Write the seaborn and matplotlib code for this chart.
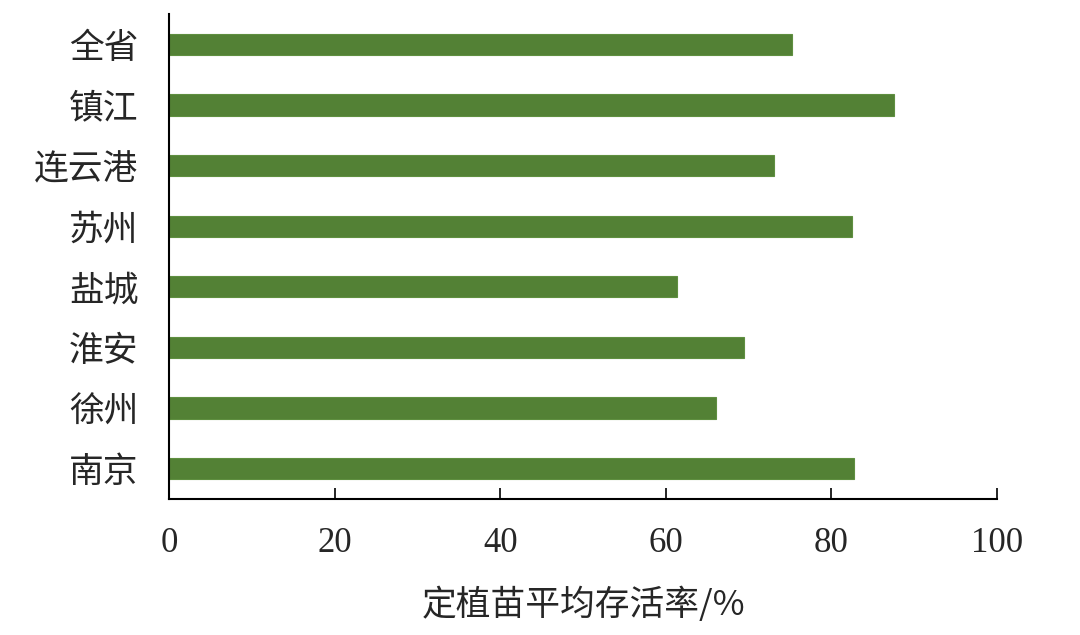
import matplotlib
matplotlib.use("Agg")
import matplotlib.pyplot as plt
import seaborn as sns
import pandas as pd

cities = ["全省", "镇江", "连云港", "苏州", "盐城", "淮安", "徐州", "南京"]
survival = [75.2, 87.5, 73.1, 82.5, 61.3, 69.4, 66.1, 82.7]
xticks = [0, 20, 40, 60, 80, 100]
xlabel = "定植苗平均存活率/%"

sns.set_theme(style="white")
plt.rcParams['font.family'] = ['Liberation Serif', 'Noto Sans CJK SC', 'DejaVu Sans']

df = pd.DataFrame({"city": cities, "val": survival})

fig = plt.figure(figsize=(10.8, 6.35), dpi=100)
ax = fig.add_axes([0.1565, 0.2142, 0.7667, 0.7638])
sns.barplot(data=df, x="val", y="city", orient="h", color="#538135",
            saturation=1, width=0.35, ax=ax, edgecolor="#5f8f40", linewidth=0.8)

ax.set_xlim(0, 100)
ax.set_ylim(len(cities) - 0.5, -0.5)
ax.set_xticks(xticks)
ax.set_xticklabels([str(t) for t in xticks], fontsize=25, family=['Liberation Serif'])
ax.set_yticklabels(cities, fontsize=25, family=['Noto Sans CJK SC'])
ax.set_xlabel(xlabel, fontsize=25, family=['Noto Sans CJK SC', 'DejaVu Sans'], labelpad=20)
ax.set_ylabel("")
for s in ["top", "right"]:
    ax.spines[s].set_visible(False)
for s in ["left", "bottom"]:
    ax.spines[s].set_color("black")
    ax.spines[s].set_linewidth(1.5)
ax.tick_params(axis="x", bottom=True, direction="in", length=8, width=1.2, color="black", pad=20)
ax.tick_params(axis="y", left=False, length=0, pad=22)

fig.savefig("out.png", dpi=100)
